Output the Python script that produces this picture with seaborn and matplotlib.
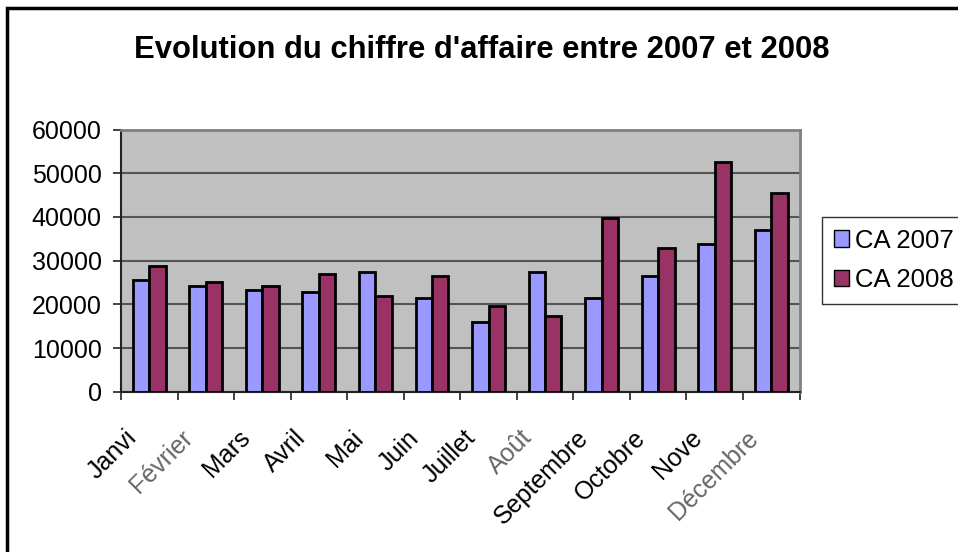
import numpy as np
import pandas as pd
import seaborn as sns
import matplotlib.pyplot as plt
from matplotlib.patches import Rectangle
import matplotlib.transforms as mtransforms

sns.set_theme(style="white")
plt.rcParams['font.family'] = ['Liberation Sans', 'DejaVu Sans']
plt.rcParams['text.color'] = 'black'
plt.rcParams['xtick.color'] = 'black'
plt.rcParams['ytick.color'] = 'black'
plt.rcParams['xtick.labelcolor'] = 'black'
plt.rcParams['ytick.labelcolor'] = 'black'

mois = ['Janvi', 'Février', 'Mars', 'Avril', 'Mai', 'Juin', 'Juillet', 'Août',
        'Septembre', 'Octobre', 'Nove', 'Décembre']
ca_2007 = [25500, 24200, 23300, 22800, 27400, 21400, 16000, 27400, 21400, 26500, 33800, 37100]
ca_2008 = [28800, 25100, 24200, 26900, 21900, 26400, 19600, 17300, 39800, 32900, 52600, 45400]
series = ['CA 2007', 'CA 2008']
colors = ['#9999FF', '#993366']

df = pd.DataFrame({
    'mois': mois * 2,
    'ca': ca_2007 + ca_2008,
    'serie': [series[0]] * len(mois) + [series[1]] * len(mois),
})

fig = plt.figure(figsize=(9.58, 5.52), dpi=100)
W, H = 958, 552
ax = fig.add_axes([121 / W, 1 - 391.7 / H, (799.5 - 121) / W, (391.7 - 129.5) / H])
ax.set_facecolor('#C0C0C0')

sns.barplot(data=df, x='mois', y='ca', hue='serie', palette=colors, saturation=1,
            width=0.58, edgecolor='black', linewidth=2, ax=ax, legend=False, zorder=3)

ax.set_xlim(-0.5, len(mois) - 0.5)
ax.set_ylim(0, 60000)
ax.set_yticks(np.arange(0, 60001, 10000))
ax.yaxis.grid(True, color='#555555', linewidth=1.5, zorder=1)
ax.set_axisbelow(True)
ax.set_xlabel('')
ax.set_ylabel('')

for s in ['top', 'right']:
    ax.spines[s].set_color('#808080')
    ax.spines[s].set_linewidth(2)
for s in ['left', 'bottom']:
    ax.spines[s].set_color('#222222')
    ax.spines[s].set_linewidth(1.5)

ax.tick_params(axis='y', left=True, length=6, width=1.2, color='#222222', labelsize=18, pad=8)
ax.tick_params(axis='x', bottom=False, length=0, labelsize=18, pad=0)
ax.set_xticks(np.arange(-0.5, len(mois), 1), minor=True)
ax.tick_params(axis='x', which='minor', bottom=True, length=6, width=1.2, color='#222222')

offset = mtransforms.ScaledTranslation(-8 / 100, -34 / 100, fig.dpi_scale_trans)
for lab in ax.get_xticklabels():
    lab.set_rotation(45)
    lab.set_ha('right')
    lab.set_va('top')
    lab.set_transform(lab.get_transform() + offset)
    if lab.get_text() in ('Février', 'Août', 'Décembre'):
        lab.set_color('#666666')

fig.text(482 / W, 1 - 50 / H, "Evolution du chiffre d'affaire entre 2007 et 2008",
         ha='center', va='center', fontsize=22.3, fontweight='bold')

handles = [Rectangle((0, 0), 1, 1, facecolor=c, edgecolor='black', linewidth=1) for c in colors]
leg = fig.legend(handles, series, loc='upper left', bbox_to_anchor=(822 / W, 1 - 217 / H),
                 frameon=True, fancybox=False, fontsize=18.5, handlelength=0.6, handleheight=0.6,
                 handletextpad=0.25, labelspacing=0.6, borderpad=0.45, borderaxespad=0)
leg.get_frame().set_edgecolor('black')
leg.get_frame().set_linewidth(1)

fig.patches.append(Rectangle((7 / W, -0.1), 1.2, 1.1 - 8 / H, transform=fig.transFigure,
                             fill=False, edgecolor='black', linewidth=2.5))

plt.savefig('out.png', dpi=100)
plt.close()
